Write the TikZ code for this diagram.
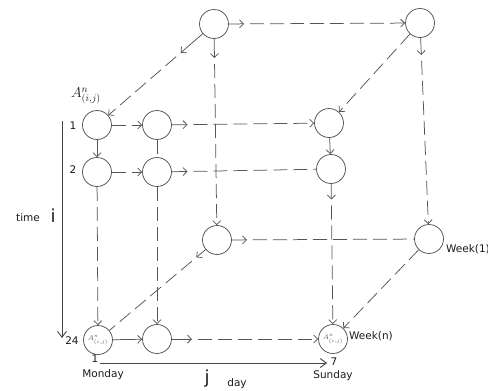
\documentclass[tikz,border=0pt]{standalone}
\usepackage{fontspec}
\setmainfont{DejaVu Sans}
\usetikzlibrary{arrows.meta,calc}
\definecolor{lc}{HTML}{555555}
\definecolor{tc}{HTML}{1A1A1A}
\begin{document}
\begin{tikzpicture}[x=1pt,y=-1pt,
  st/.style={circle,draw=lc,line width=0.75pt,minimum size=29pt,inner sep=0pt},
  ln/.style={draw=lc,line width=0.75pt},
  dsh/.style={ln,dash pattern=on 14pt off 6pt},
  gapfirst/.style={dash phase=14pt},
  ea/.style={-{Straight Barb[length=4pt,width=8pt]}},
  axis/.style={draw=lc!80!black,line width=0.9pt,-{Straight Barb[length=6pt,width=9pt]}},
  lab/.style={text=tc,font=\fontsize{10.5}{12}\selectfont,inner sep=0pt},
  big/.style={text=tc,font=\fontsize{18}{19}\selectfont,inner sep=0pt}
]
\useasboundingbox (0,0) rectangle (488,391);
% back face
\node[st] (btl) at (214,24) {};
\node[st] (btr) at (420,23) {};
\node[st] (bbl) at (217,240) {};
\node[st] (bbr) at (429,239) {};
% front grid
\node[st] (f11) at (97,125) {};
\node[st] (f12) at (157,125) {};
\node[st] (f13) at (329,123) {};
\node[st] (f21) at (97,172) {};
\node[st] (f22) at (157,172) {};
\node[st] (f23) at (331,169) {};
\node[st] (f31) at (98,340) {\textcolor{lc}{\fontsize{7.5}{8}\selectfont$A^n_{(i,j)}$}};
\node[st] (f32) at (157,339) {};
\node[st] (f33) at (333,339) {\textcolor{lc}{\fontsize{7.5}{8}\selectfont$A^n_{(i,j)}$}};

% mid-arrow coordinates
\coordinate (m1) at ($(btl)!30pt!(btr)$);
\coordinate (m2) at ($(btl)!44pt!(f11)$);
\coordinate (m3) at ($(btl)!34pt!(bbl)$);
\coordinate (m4) at ($(btr)!32pt!(bbr)$);
\coordinate (m5) at ($(f12)!30.5pt!(f13)$);
\coordinate (m6) at ($(f22)!30.5pt!(f23)$);
\coordinate (m7) at ($(f23)!30.5pt!(f33)$);
\coordinate (m8) at ($(f32)!35pt!(f33)$);
\coordinate (m9) at ($(bbl)!27pt!(f31)$);
\coordinate (m10) at ($(bbl)!30pt!(bbr)$);

% connectors with an arrow near the start
\draw[ln,ea] (btl) -- (m1);  \draw[dsh,gapfirst,ea] (m1) -- (btr);
\draw[ln,ea] (btl) -- (m2);  \draw[dsh,gapfirst,ea] (m2) -- (f11);
\draw[ln,ea] (btl) -- (m3);  \draw[dsh,gapfirst,ea] (m3) -- (bbl);
\draw[ln,ea] (btr) -- (m4);  \draw[dsh,gapfirst,ea] (m4) -- (bbr);
\draw[ln,ea] (f12) -- (m5);  \draw[dsh,gapfirst,ea] (m5) -- (f13);
\draw[ln,ea] (f22) -- (m6);  \draw[dsh,gapfirst] (m6) -- (f23);
\draw[ln,ea] (f23) -- (m7);  \draw[dsh,gapfirst,ea] (m7) -- (f33);
\draw[ln,ea] (f32) -- (m8);  \draw[dsh,gapfirst,ea] (m8) -- (f33);
\draw[ln,ea] (bbl) -- (m9);  \draw[dsh,gapfirst] (m9) -- (f31);
\draw[ln,ea] (bbl) -- (m10); \draw[dsh,gapfirst] (m10) -- (bbr);

% plain connectors
\draw[dsh,ea] (btr) -- (f13);
\draw[dsh,ea] (bbr) -- (f33);
\draw[dsh,ea] (f11) -- (f12);
\draw[dsh,ea] (f21) -- (f22);
\draw[ln,ea] (f11) -- (f21);
\draw[ln,ea] (f13) -- (f23);
\draw[dsh] (f12) -- (f22);
\draw[dsh,ea] (f22) -- (f32);
\draw[dsh,ea] (f21) -- (f31);
\draw[ln,ea] (f31) -- (f32);

% axes
\coordinate (ti0) at (62,121);
\coordinate (ti1) at (62,338);
\draw[axis] (ti0) -- (ti1);
\coordinate (dj0) at (100,363);
\coordinate (dj1) at (327,363);
\draw[axis] (dj0) -- (dj1);

% labels
\node[text=tc,inner sep=0pt,font=\fontsize{14}{15}\selectfont] (alab) at (86,96) {$A^n_{(i,j)}$};
\node[lab] (r1) at (73,126) {1};
\node[lab] (r2) at (73,170) {2};
\node[lab] (r24) at (72,341) {24};
\node[lab] (time) at (28,218) {time};
\node[big] (ilab) at (53,216) {i};
\node[lab] (c1) at (95,359) {1};
\node[lab] (mon) at (103,375) {Monday};
\node[big] (jlab) at (207,379) {j};
\node[lab] (day) at (237,384) {day};
\node[lab] (c7) at (334,362) {7};
\node[lab] (sun) at (333,376) {Sunday};
\node[lab,anchor=west] (wkn) at (349,336) {Week(n)};
\node[lab,anchor=west] (wk1) at (446,249) {Week(1)};
\end{tikzpicture}
\end{document}
